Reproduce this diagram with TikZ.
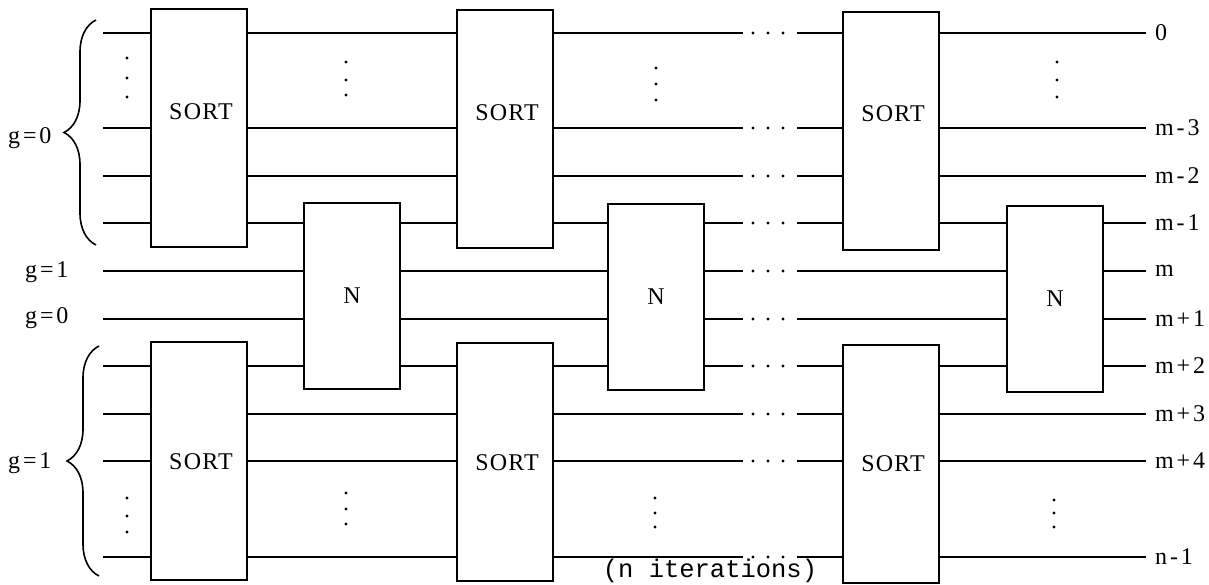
\documentclass[tikz,border=0pt]{standalone}
\usepackage{fontspec}
\setmainfont{Liberation Serif}
\setmonofont{Liberation Mono}
\usetikzlibrary{decorations.pathreplacing,calc}
\begin{document}
\begin{tikzpicture}[x=1pt,y=-1pt,
  wire/.style={line width=1.6pt},
  boxbase/.style={draw,line width=1.8pt,minimum width=96pt,inner sep=0pt,font=\fontsize{24}{28}\selectfont},
  sortbox/.style={boxbase,minimum height=238pt},
  nbox/.style={boxbase,minimum height=186pt},
  lbl/.style={font=\fontsize{24}{28}\selectfont\addfontfeature{LetterSpace=5},inner sep=0pt},
  sidelbl/.style={font=\fontsize{24}{28}\selectfont\addfontfeature{LetterSpace=12},inner sep=0pt},
  bracestyle/.style={line width=1.6pt,decorate,decoration={brace,amplitude=32pt}}
]
\useasboundingbox (0,0) rectangle (1209,585);

% boxes
\node[sortbox] (s1t) at (199,128) {};
\node[sortbox] (s1b) at (199,461) {};
\node[nbox] (n1) at (352,296) {N};
\node[sortbox] (s2t) at (505,129) {};
\node[sortbox] (s2b) at (505,462) {};
\node[nbox] (n2) at (656,297) {N};
\node[sortbox] (s3t) at (891,131) {};
\node[sortbox] (s3b) at (891,464) {};
\node[nbox] (n3) at (1055,299) {N};

\node[lbl] (t1) at ($(s1t.center)+(2,-16)$) {SORT};
\node[lbl] (t2) at ($(s2t.center)+(2,-16)$) {SORT};
\node[lbl] (t3) at ($(s3t.center)+(2,-17)$) {SORT};
\node[lbl] (b1) at ($(s1b.center)+(2,1)$) {SORT};
\node[lbl] (b2) at ($(s2b.center)+(2,1)$) {SORT};
\node[lbl] (b3) at ($(s3b.center)+(2,0)$) {SORT};

% wire end coordinates
\foreach \n/\y in {A/33,B/128,C/176,D/223,E/271,F/319,G/366,H/414,I/461,J/557}{
  \coordinate (l\n) at (103,\y);
  \coordinate (ga\n) at (743,\y);
  \coordinate (gb\n) at (797,\y);
  \coordinate (r\n) at (1146,\y);
  \fill (753,\y) circle (1.7pt);
  \fill (768,\y) circle (1.7pt);
  \fill (783,\y) circle (1.7pt);
}

% top sorted wires
\foreach \n in {A,B,C}{
  \draw[wire] (l\n) -- (l\n -| s1t.west);
  \draw[wire] (l\n -| s1t.east) -- (l\n -| s2t.west);
  \draw[wire] (l\n -| s2t.east) -- (ga\n);
  \draw[wire] (gb\n) -- (gb\n -| s3t.west);
  \draw[wire] (gb\n -| s3t.east) -- (r\n);
}
% m-1
\draw[wire] (lD) -- (lD -| s1t.west);
\draw[wire] (lD -| s1t.east) -- (lD -| n1.west);
\draw[wire] (lD -| n1.east) -- (lD -| s2t.west);
\draw[wire] (lD -| s2t.east) -- (lD -| n2.west);
\draw[wire] (lD -| n2.east) -- (gaD);
\draw[wire] (gbD) -- (gbD -| s3t.west);
\draw[wire] (gbD -| s3t.east) -- (gbD -| n3.west);
\draw[wire] (rD -| n3.east) -- (rD);
% m, m+1
\foreach \n in {E,F}{
  \draw[wire] (l\n) -- (l\n -| n1.west);
  \draw[wire] (l\n -| n1.east) -- (l\n -| n2.west);
  \draw[wire] (l\n -| n2.east) -- (ga\n);
  \draw[wire] (gb\n) -- (gb\n -| n3.west);
  \draw[wire] (r\n -| n3.east) -- (r\n);
}
% m+2
\draw[wire] (lG) -- (lG -| s1b.west);
\draw[wire] (lG -| s1b.east) -- (lG -| n1.west);
\draw[wire] (lG -| n1.east) -- (lG -| s2b.west);
\draw[wire] (lG -| s2b.east) -- (lG -| n2.west);
\draw[wire] (lG -| n2.east) -- (gaG);
\draw[wire] (gbG) -- (gbG -| s3b.west);
\draw[wire] (gbG -| s3b.east) -- (gbG -| n3.west);
\draw[wire] (rG -| n3.east) -- (rG);
% bottom sorted wires
\foreach \n in {H,I,J}{
  \draw[wire] (l\n) -- (l\n -| s1b.west);
  \draw[wire] (l\n -| s1b.east) -- (l\n -| s2b.west);
  \draw[wire] (l\n -| s2b.east) -- (ga\n);
  \draw[wire] (gb\n) -- (gb\n -| s3b.west);
  \draw[wire] (gb\n -| s3b.east) -- (r\n);
}

% output labels
\foreach \n/\t in {A/0,B/m-3,C/m-2,D/m-1,E/m,F/m+1,G/m+2,H/m+3,I/m+4,J/n-1}{
  \node[sidelbl,anchor=west] (o\n) at ($(r\n)+(9,0)$) {\t};
}

% vertical dots
\foreach \x/\ya/\yb/\yc in {127/58/78/97, 346/62/80/95, 656/68/84/100, 1057/62/80/97,
                             127/498/516/532, 346/493/509/524, 655/498/513/527, 1054/500/513/527}{
  \fill (\x,\ya) circle (1.7pt);
  \fill (\x,\yb) circle (1.7pt);
  \fill (\x,\yc) circle (1.7pt);
}

% braces
\draw[bracestyle] (96,245) -- (96,20);
\draw[bracestyle] (99,576) -- (99,346);
\node[sidelbl,anchor=west] (g0a) at (8,138) {g=0};
\node[sidelbl,anchor=west] (g1a) at (8,463) {g=1};
\node[sidelbl,anchor=west] (g1b) at (25,272) {g=1};
\node[sidelbl,anchor=west] (g0b) at (25,318) {g=0};

\node[font=\ttfamily\fontsize{25.5}{28}\selectfont,inner sep=0pt] (iter) at (710,571) {(n iterations)};
\end{tikzpicture}
\end{document}
